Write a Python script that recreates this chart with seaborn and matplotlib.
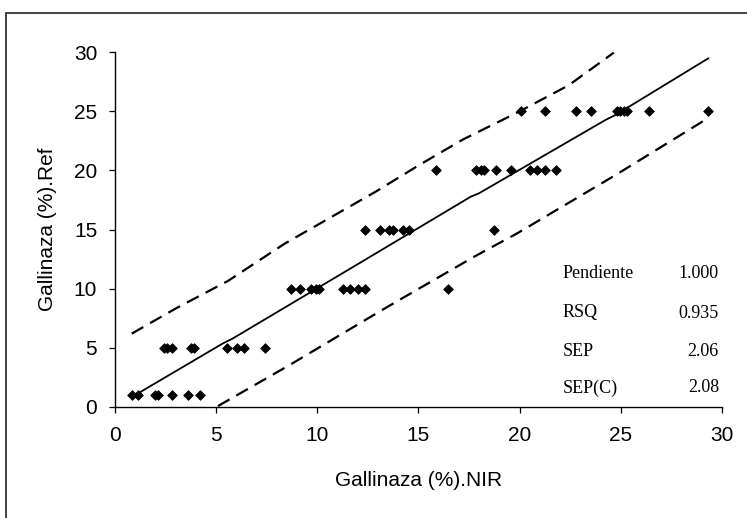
import matplotlib
matplotlib.use("Agg")
import matplotlib.pyplot as plt
import seaborn as sns
import pandas as pd
from matplotlib.patches import Rectangle

# ---- data ----
nir_values = [0.85, 1.18, 2.00, 2.17, 2.82, 3.61, 4.21,
              2.44, 2.60, 2.85, 3.80, 3.92, 5.56, 6.05, 6.38, 7.45,
              8.73, 9.14, 9.71, 9.96, 10.12, 11.27, 11.65, 12.01, 12.37, 16.49,
              12.37, 13.13, 13.57, 13.73, 14.23, 14.56, 18.74,
              15.87, 17.87, 18.09, 18.25, 18.86, 19.57, 20.50, 20.88, 21.26, 21.78,
              20.06, 21.24, 22.77, 23.51, 24.82, 24.98, 25.15, 25.31, 26.38, 29.30]
ref_values = [1] * 7 + [5] * 9 + [10] * 10 + [15] * 7 + [20] * 10 + [25] * 10

fit_x = [1.17, 5.36, 5.85, 12.09, 17.60, 18.00, 24.25, 24.74, 29.33]
fit_y = [1.16, 5.38, 5.80, 12.15, 17.78, 18.06, 24.26, 24.68, 29.47]

upper_x = [0.85, 3.05, 5.60, 8.40, 10.60, 12.90, 15.05, 17.20, 19.98, 22.44, 24.66]
upper_y = [6.20, 8.35, 10.65, 13.80, 15.95, 18.20, 20.45, 22.60, 24.96, 27.20, 29.95]

lower_x = [5.11, 8.65, 13.08, 14.06, 17.76, 19.89, 24.74, 29.30]
lower_y = [0.08, 3.55, 8.06, 9.04, 12.70, 14.68, 19.60, 24.40]

stat_names = ["Pendiente", "RSQ", "SEP", "SEP(C)"]
stat_values = ["1.000", "0.935", "2.06", "2.08"]

x_ticks = [0, 5, 10, 15, 20, 25, 30]
y_ticks = [0, 5, 10, 15, 20, 25, 30]
x_label = "Gallinaza (%).NIR"
y_label = "Gallinaza (%).Ref"

# ---- style ----
sns.set_style("ticks")
plt.rcParams["font.family"] = ["Liberation Sans", "DejaVu Sans"]

fig = plt.figure(figsize=(7.47, 5.18), dpi=100)
fig.patch.set_facecolor("white")

# outer chart frame (only left and top edges are inside the picture)
fig.patches.append(Rectangle((6 / 747, -0.2), 1.2, 0.2 + (1 - 12.7 / 518),
                             transform=fig.transFigure, fill=False,
                             edgecolor="#333333", linewidth=1.3))

ax = fig.add_axes([114.5 / 747, 1 - 407 / 518, (722 - 114.5) / 747, (407 - 52) / 518])

pts = pd.DataFrame({"nir": nir_values, "ref": ref_values})
sns.scatterplot(data=pts, x="nir", y="ref", marker="D", s=24, color="black",
                edgecolor="black", linewidth=0.6, ax=ax, zorder=3)

sns.lineplot(x=fit_x, y=fit_y, estimator=None, sort=False, color="black",
             linewidth=1.3, ax=ax)
sns.lineplot(x=upper_x, y=upper_y, estimator=None, sort=False, color="black",
             linewidth=1.6, linestyle=(0, (6, 3.5)), ax=ax)
sns.lineplot(x=lower_x, y=lower_y, estimator=None, sort=False, color="black",
             linewidth=1.6, linestyle=(0, (6, 3.5)), ax=ax)

ax.set_xlim(0, 30)
ax.set_ylim(0, 30)
ax.set_xticks(x_ticks)
ax.set_yticks(y_ticks)
ax.set_xticklabels([str(t) for t in x_ticks])
ax.set_yticklabels([str(t) for t in y_ticks])
ax.tick_params(axis="both", labelsize=15, length=4.5, width=0.9, color="black",
               labelcolor="black", direction="out")
ax.tick_params(axis="x", pad=9)
ax.tick_params(axis="y", pad=8)

for side in ["top", "right"]:
    ax.spines[side].set_visible(False)
for side in ["left", "bottom"]:
    ax.spines[side].set_color("black")
    ax.spines[side].set_linewidth(1.0)

ax.set_xlabel(x_label, fontsize=15, color="black")
ax.set_ylabel(y_label, fontsize=15, color="black")
ax.xaxis.set_label_coords(0.5, -0.18)
ax.yaxis.set_label_coords(-0.095, 0.5)

row_y = [273, 313, 352, 388]
for name, val, py in zip(stat_names, stat_values, row_y):
    fig.text(563 / 747, 1 - py / 518, name, ha="left", va="center",
             fontsize=13, family=["Liberation Serif", "DejaVu Serif"], color="black")
    fig.text(719 / 747, 1 - py / 518, val, ha="right", va="center",
             fontsize=13, family=["Liberation Serif", "DejaVu Serif"], color="black")

fig.savefig("out.png", dpi=100, facecolor="white")
